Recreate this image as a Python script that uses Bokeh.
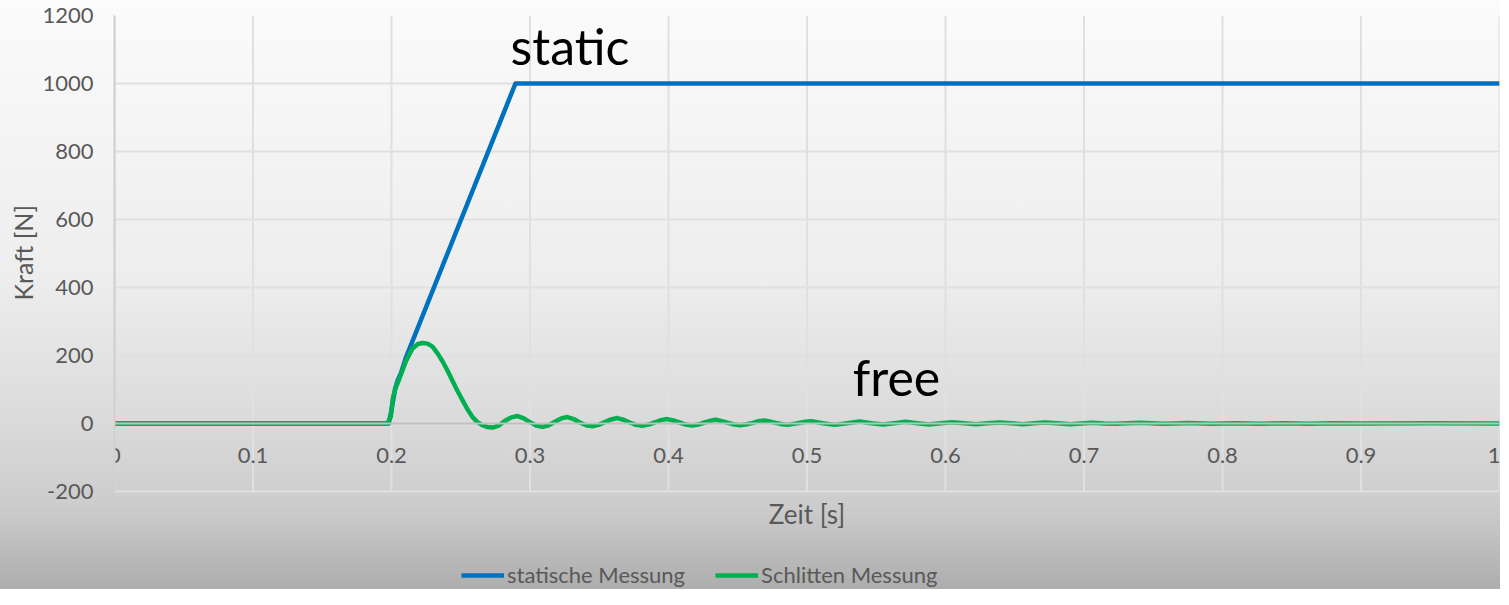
from bokeh.plotting import figure
from bokeh.models import Range1d, FixedTicker, Legend, LegendItem, Title
from bokeh.core.properties import value
from bokeh.embed import file_html
from bokeh.resources import INLINE

# ---- data ----
series_names = ["statische Messung", "Schlitten Messung"]
series_colors = ["#0070C0", "#00B050"]

t_static = [0, 0.198, 0.2, 0.2025, 0.2043, 0.207, 0.2104, 0.2895, 1.0]
f_static = [0, 0, 40, 100, 125, 150, 194, 1000, 1000]

t_sled = [0, 0.197, 0.1995, 0.201, 0.203, 0.2055, 0.2104, 0.215, 0.219, 0.2224,
          0.226, 0.2296, 0.2335, 0.2368, 0.2405, 0.244, 0.2475, 0.2513, 0.2548, 0.2585,
          0.262, 0.2657, 0.269, 0.273, 0.2775, 0.282, 0.2865, 0.291, 0.2955, 0.300,
          0.3045, 0.309, 0.3135, 0.318, 0.3225, 0.327, 0.3315, 0.336, 0.3405, 0.345,
          0.3495, 0.354, 0.3585, 0.363, 0.3675, 0.372, 0.3765, 0.381, 0.3855, 0.390,
          0.3945, 0.399, 0.4035, 0.408, 0.4125, 0.417, 0.4215, 0.426, 0.4305, 0.434,
          0.4385, 0.443, 0.4475, 0.452, 0.4565, 0.461, 0.465, 0.469, 0.473, 0.4775,
          0.482, 0.486, 0.4905, 0.495, 0.499, 0.503, 0.5115, 0.52, 0.529, 0.538,
          0.5465, 0.555, 0.563, 0.571, 0.5795, 0.588, 0.5965, 0.605, 0.6135, 0.622,
          0.6305, 0.639, 0.6475, 0.656, 0.664, 0.672, 0.681, 0.69, 0.698, 0.706,
          0.7145, 0.723, 0.7315, 0.74, 0.7485, 0.757, 0.766, 0.775, 0.792, 0.81,
          0.827, 0.845, 0.862, 0.88, 0.9, 0.95, 1.0]
f_sled = [0, 0, 20, 75, 105, 130, 183, 220, 234, 237,
          235, 226, 205, 183, 155, 126, 97, 68, 42, 19,
          4, -5, -10, -12, -6, 8, 18, 22, 15, 4,
          -6, -10, -5, 5, 15, 19, 13, 3, -5, -8,
          -4, 4, 12, 16, 11, 3, -4, -7, -3, 3,
          10, 13, 9, 3, -3, -6, -3, 3, 8, 11,
          7, 2, -3, -5, -2, 2, 7, 9, 6, 2,
          -2, -4, -1, 2, 5, 7, 1, -4, 1, 6,
          1, -3, 1, 5, 1, -3, 1, 4, 1, -2,
          0.5, 3, 0.5, -2, 0.5, 3, 0.5, -2, 0, 2,
          0, -1, 0.5, 2, 0.5, -1, 0, 1.5, -1, 1,
          -1, 1, -0.5, 1, 0, 0.5, 0]

x_ticks = [0, 0.1, 0.2, 0.3, 0.4, 0.5, 0.6, 0.7, 0.8, 0.9, 1.0]
x_tick_labels = ["0", "0.1", "0.2", "0.3", "0.4", "0.5", "0.6", "0.7", "0.8", "0.9", "1"]
y_ticks = [-200, 0, 200, 400, 600, 800, 1000, 1200]
y_tick_labels = ["-200", "0", "200", "400", "600", "800", "1000", "1200"]
x_title = "Zeit [s]"
y_title = "Kraft [N]"

note_text = ["static", "free"]
note_x = [0.286, 0.533]
note_y = [1109, 136]

FONT = "Lato"
GREY = "#595959"

Y_LO, Y_HI = -200, 1200
# frame extended below -200 so the axis title and legend can sit inside it
p = figure(width=1500, height=589, x_range=Range1d(0, 1), y_range=Range1d(-488.2, Y_HI),
           output_backend="svg", toolbar_location=None,
           min_border_left=114, min_border_right=1, min_border_top=15, min_border_bottom=0)
p.styles = {"background": "linear-gradient(to bottom, #fbfbfb 0%, #ededed 48%, #dadada 72%, #cccccc 86%, #adadad 100%)"}
p.background_fill_alpha = 0
p.border_fill_alpha = 0
p.outline_line_color = None

# grid: horizontal from the axis grid, vertical lines limited to the -200..1200 band
p.xgrid.visible = False
p.ygrid.ticker = FixedTicker(ticks=y_ticks)
p.ygrid.grid_line_color = "#e0e0e0"
p.ygrid.grid_line_width = 2
p.segment(x0=x_ticks, y0=[Y_LO] * len(x_ticks), x1=x_ticks, y1=[Y_HI] * len(x_ticks),
          line_color="#e0e0e0", line_width=2)

# y axis
ya = p.yaxis[0]
ya.bounds = (Y_LO, Y_HI)
ya.ticker = FixedTicker(ticks=y_ticks)
ya.major_label_overrides = {t: s for t, s in zip(y_ticks, y_tick_labels)}
ya.major_label_text_font = FONT
ya.major_label_text_font_size = "22px"
ya.major_label_text_color = GREY
ya.major_label_standoff = 15
ya.major_tick_line_color = None
ya.minor_tick_line_color = None
ya.axis_line_color = "#cfcfcf"
ya.axis_line_width = 2

# y axis title, positioned along the -200..1200 band
p.add_layout(Title(text=y_title, align="left", offset=289, standoff=4, text_font=FONT,
                   text_font_size="25px", text_font_style="normal", text_color=GREY), "left")

# x axis at y = 0
xa = p.xaxis[0]
xa.fixed_location = 0
xa.ticker = FixedTicker(ticks=x_ticks)
xa.major_label_overrides = {t: s for t, s in zip(x_ticks, x_tick_labels)}
xa.major_label_text_font = FONT
xa.major_label_text_font_size = "22px"
xa.major_label_text_color = GREY
xa.major_label_standoff = 24
xa.major_tick_line_color = None
xa.minor_tick_line_color = None
xa.major_tick_out = 0
xa.axis_line_color = "#c0c0c0"
xa.axis_line_width = 2

# lines
r1 = p.line(t_static, f_static, line_color=series_colors[0], line_width=4.5, line_join="round")
r2 = p.line(t_sled, f_sled, line_color=series_colors[1], line_width=4.5, line_join="round")

# annotations
p.text(x=note_x, y=note_y, text=note_text, text_font=value(FONT), text_font_size="50px",
       text_color="black", text_align="left", text_baseline="alphabetic")

# x axis title
p.text(x=[0.5], y=[-267.6], text=[x_title], text_font=value(FONT), text_font_size="26px",
       text_color=GREY, text_align="center", text_baseline="middle")

legend = Legend(items=[LegendItem(label=series_names[0], renderers=[r1]),
                       LegendItem(label=series_names[1], renderers=[r2])],
                orientation="horizontal", location=(347, 1),
                label_text_font=FONT, label_text_font_size="22px", label_text_color=GREY,
                glyph_width=43, glyph_height=20, label_standoff=3, spacing=30, padding=0,
                border_line_color=None, background_fill_alpha=0)
p.add_layout(legend, "center")

open("out.html", "w").write(file_html(p, INLINE))
